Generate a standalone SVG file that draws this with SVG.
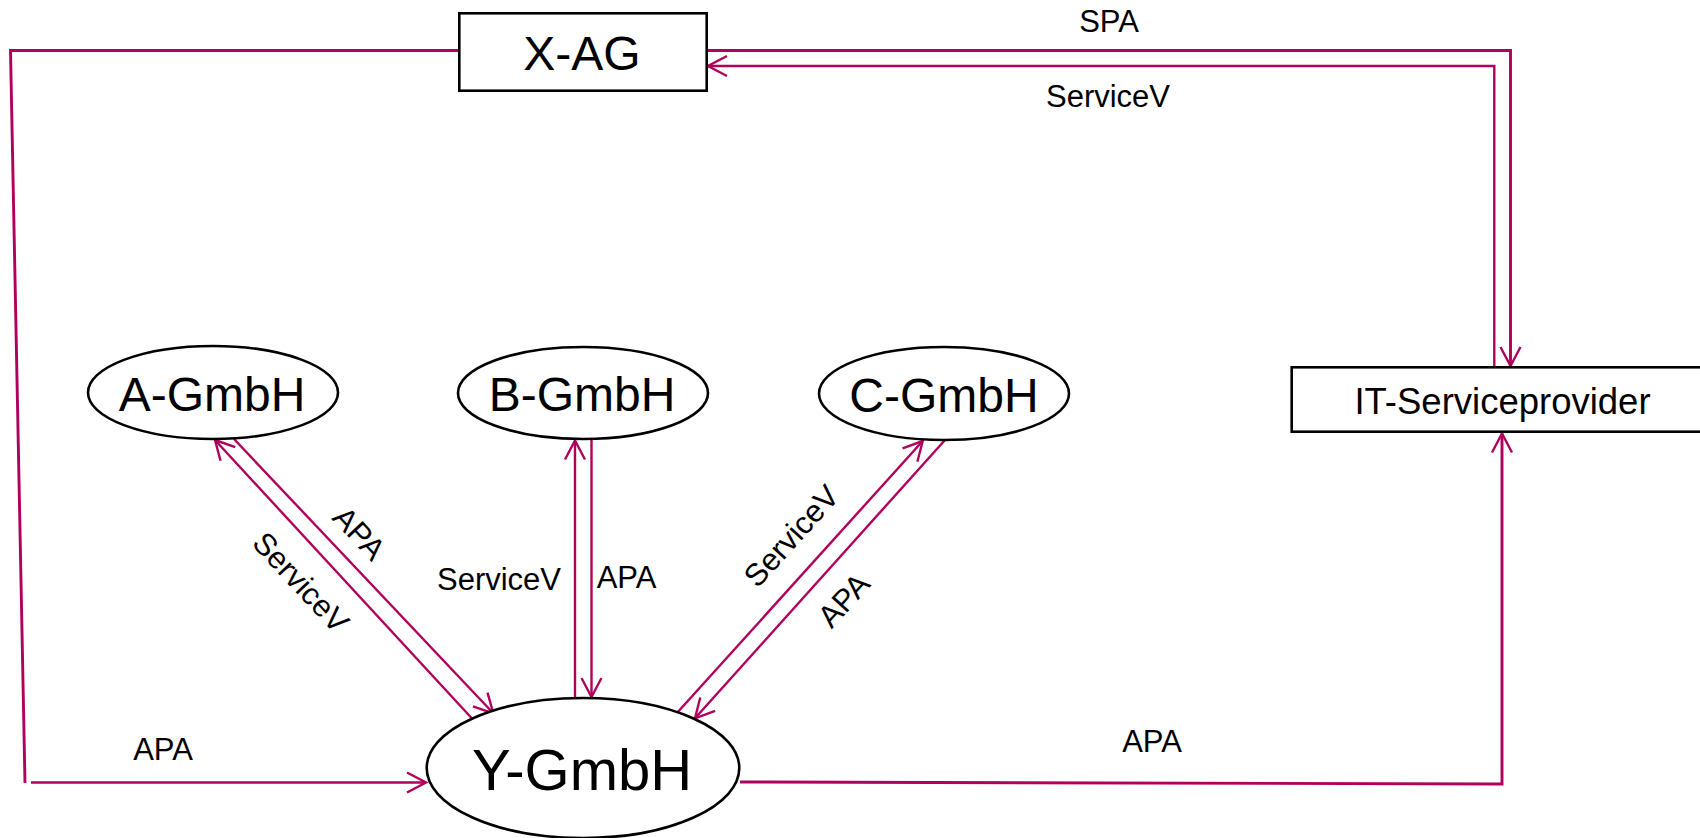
<svg xmlns="http://www.w3.org/2000/svg" width="1700" height="838" viewBox="0 0 1700 838">
  <style>
    .node { fill: #ffffff; stroke: #000000; stroke-width: 2.6; }
    .name { font-family: "Liberation Sans", Arial, sans-serif; fill: #000000; text-anchor: middle; }
    .lbl { font-family: "Liberation Sans", Arial, sans-serif; font-size: 31px; fill: #000000; text-anchor: middle; }
    .edge { fill: none; stroke: #B0005C; stroke-width: 2.4; }
    .heavy { stroke-width: 2.9; }
  </style>
  <defs>
    <marker id="arrow" viewBox="-22 -12 26 24" markerWidth="26" markerHeight="24" refX="0" refY="0" orient="auto" markerUnits="userSpaceOnUse">
      <path d="M-19,-10 L0,0 L-19,10" fill="none" stroke="#B0005C" stroke-width="2.4"/>
    </marker>
  </defs>

  <rect width="1700" height="838" fill="#ffffff"/>

  <!-- connectors -->
  <g id="connectors">
    <!-- X-AG to Y-GmbH (left loop) -->
    <polyline class="edge heavy" points="459,50.5 10.5,50.5 25,783"/>
    <line class="edge" x1="31" y1="782.5" x2="426" y2="782.5" marker-end="url(#arrow)"/>

    <!-- X-AG to IT-Serviceprovider (SPA) -->
    <polyline class="edge heavy" points="707,50.5 1510.5,50.5 1510.5,366" marker-end="url(#arrow)"/>
    <!-- IT-Serviceprovider to X-AG (ServiceV) -->
    <polyline class="edge" points="1494.3,367 1494.3,66 708,66" marker-end="url(#arrow)"/>

    <!-- Y-GmbH to IT-Serviceprovider (APA) -->
    <polyline class="edge heavy" points="740,782 1502,784 1502,433.5" marker-end="url(#arrow)"/>

    <!-- A-GmbH <-> Y-GmbH -->
    <line class="edge" x1="472.7" y1="719.3" x2="215" y2="440" marker-end="url(#arrow)"/>
    <line class="edge" x1="234" y1="439" x2="493.3" y2="713.3" marker-end="url(#arrow)"/>

    <!-- B-GmbH <-> Y-GmbH -->
    <line class="edge" x1="575" y1="698.3" x2="575" y2="440.5" marker-end="url(#arrow)"/>
    <line class="edge" x1="591.5" y1="439" x2="591.5" y2="697" marker-end="url(#arrow)"/>

    <!-- C-GmbH <-> Y-GmbH -->
    <line class="edge" x1="676.7" y1="713.3" x2="922.7" y2="441" marker-end="url(#arrow)"/>
    <line class="edge" x1="945" y1="440" x2="695" y2="718.3" marker-end="url(#arrow)"/>

    <!-- connector labels -->
    <text class="lbl" x="1109" y="32">SPA</text>
    <text class="lbl" x="1108" y="107">ServiceV</text>
    <text class="lbl" x="163" y="760">APA</text>
    <text class="lbl" x="1152" y="752">APA</text>
    <text class="lbl" transform="translate(359.5,533) rotate(47)" y="11">APA</text>
    <text class="lbl" transform="translate(301,582) rotate(47)" y="11">ServiceV</text>
    <text class="lbl" x="499" y="590">ServiceV</text>
    <text class="lbl" x="626.5" y="588">APA</text>
    <text class="lbl" transform="translate(791,535.7) rotate(-47.8)" y="11">ServiceV</text>
    <text class="lbl" transform="translate(843.5,600) rotate(-47.8)" y="11">APA</text>
  </g>

  <!-- nodes -->
  <g id="x-ag">
    <rect class="node" x="459.3" y="13.3" width="247.4" height="77.4"/>
    <text class="name" x="582" y="70" font-size="48">X-AG</text>
  </g>

  <g id="it-serviceprovider">
    <rect class="node" x="1291.7" y="367.3" width="430" height="64.4"/>
    <text class="name" x="1502.5" y="414" font-size="36.5">IT-Serviceprovider</text>
  </g>

  <g id="a-gmbh">
    <ellipse class="node" cx="213" cy="392.5" rx="125" ry="46.5"/>
    <text class="name" x="212" y="410.5" font-size="48">A-GmbH</text>
  </g>

  <g id="b-gmbh">
    <ellipse class="node" cx="583" cy="393" rx="125" ry="46"/>
    <text class="name" x="582" y="411" font-size="48">B-GmbH</text>
  </g>

  <g id="c-gmbh">
    <ellipse class="node" cx="944" cy="393.5" rx="125" ry="46.5"/>
    <text class="name" x="944" y="411.5" font-size="48">C-GmbH</text>
  </g>

  <g id="y-gmbh">
    <ellipse class="node" cx="583" cy="768" rx="156.3" ry="70"/>
    <text class="name" x="582" y="790" font-size="58">Y-GmbH</text>
  </g>
</svg>
